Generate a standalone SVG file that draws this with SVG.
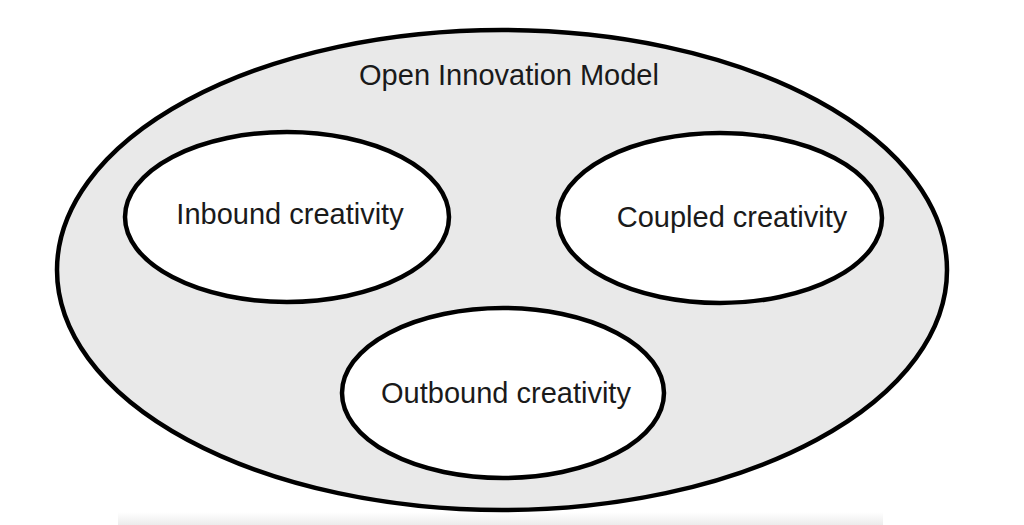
<svg xmlns="http://www.w3.org/2000/svg" width="1024" height="525" viewBox="0 0 1024 525">
<style>
.ring{stroke:#000;stroke-width:4.5;}
.lbl{font-family:"Liberation Sans",Arial,Helvetica,sans-serif;font-size:29px;fill:#1a1a1a;text-anchor:middle;}
</style>
<defs>
<linearGradient id="shade" x1="0" y1="0" x2="0" y2="1">
<stop offset="0" stop-color="#ffffff"/>
<stop offset="1" stop-color="#ececec"/>
</linearGradient>
</defs>
<rect width="1024" height="525" fill="#ffffff"/>
<rect x="118" y="512" width="765" height="13" fill="url(#shade)"/>
<g id="open-innovation-model">
<ellipse class="ring" cx="502" cy="270" rx="445" ry="240" fill="#e9e9e9"/>
<text class="lbl" x="509" y="85">Open Innovation Model</text>
</g>
<g id="inbound-creativity">
<ellipse class="ring" cx="287" cy="217" rx="162" ry="85" fill="#ffffff"/>
<text class="lbl" x="290" y="224">Inbound creativity</text>
</g>
<g id="coupled-creativity">
<ellipse class="ring" cx="720" cy="218" rx="162" ry="85" fill="#ffffff"/>
<text class="lbl" x="732" y="227">Coupled creativity</text>
</g>
<g id="outbound-creativity">
<ellipse class="ring" cx="503" cy="393" rx="161" ry="85" fill="#ffffff"/>
<text class="lbl" x="506" y="403">Outbound creativity</text>
</g>
<g id="connectors"></g>
</svg>
